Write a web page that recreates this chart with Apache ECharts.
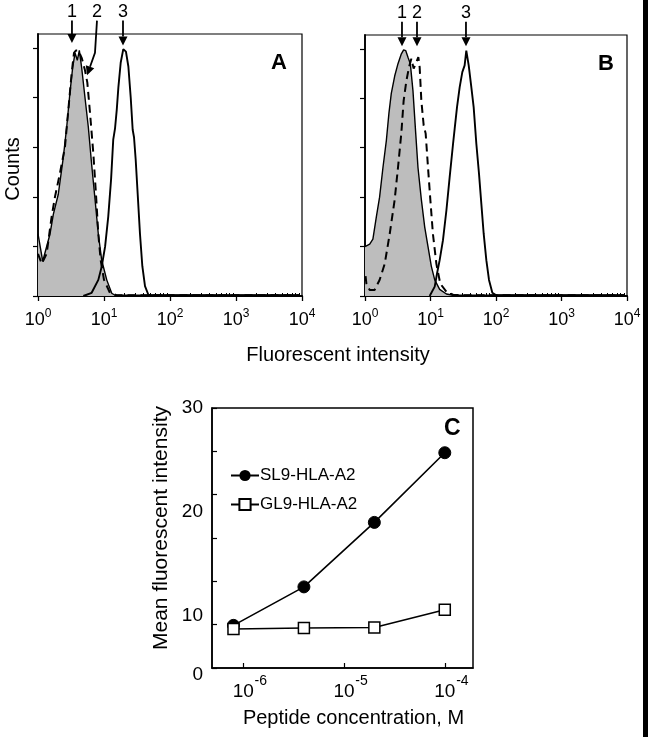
<!DOCTYPE html>
<html><head><meta charset="utf-8">
<script src="https://cdn.jsdelivr.net/npm/echarts@6/dist/echarts.min.js"></script>
<style>html,body{margin:0;padding:0;background:#fff}#c{width:648px;height:737px}</style>
</head><body><div id="c"></div>
<script>
// ---------- Panel A histograms: [fluorescent intensity, counts (% of peak)] ----------
const histA1 = [[1,25],[1.18,14],[1.52,25],[1.71,33],[2.03,41],[2.42,56],[2.72,68],[3.05,82],[3.35,92],[3.64,98],[3.94,95],[4.23,99],[4.59,92],[5.15,80],[5.79,68],[6.5,53],[7.31,39],[8.2,25],[9.22,14.5],[11,6.5],[13.1,1.1],[14.7,0.3],[9000,0.3]];
const histA2 = [[1,17],[1.14,13],[1.35,17],[1.61,32],[1.81,40],[2.15,49.5],[2.56,60],[2.88,75],[3.24,90],[3.51,98],[3.77,99],[4.08,99],[4.59,96],[5.15,91],[5.59,86],[6.13,74],[6.89,57.5],[7.56,41],[8.2,25],[8.9,14.5],[10,6.5],[12.3,1.3],[15.5,0.3],[9000,0.3]];
const histA3 = [[4.86,0],[6.5,1.3],[8.2,6.5],[9.22,11.8],[10.4,20],[11.6,32],[12.8,47],[13.8,63],[14.7,67.6],[15.6,75],[16.5,84],[17.9,94],[19.6,99.5],[21.5,98.5],[23.4,92.5],[25.4,80],[27.2,67],[28.5,64],[30.2,55],[32.4,41],[35.1,25],[38.1,12],[41.8,4],[47,0.5],[52.7,0.3],[9000,0.3]];
// ---------- Panel B histograms ----------
const histB1 = [[1,20],[1.18,21],[1.32,23],[1.49,32],[1.67,40],[1.88,52],[2.12,63],[2.32,74],[2.52,82],[2.84,89],[3.19,94],[3.59,98],[3.89,99.6],[4.18,99.3],[4.53,96.6],[4.92,94],[5.4,83],[5.94,66],[6.44,52],[7.25,39],[8.15,28],[9.16,20],[10.3,12],[11.6,6.5],[13.8,2.7],[17.5,0.8],[22.1,0.3],[9000,0.3]];
const histB2 = [[1.02,8],[1.05,5],[1.18,2.4],[1.4,2.4],[1.67,6.5],[2.0,13],[2.38,25],[2.84,39],[3.19,52],[3.59,66],[3.89,79],[4.28,87],[4.7,92.6],[5.1,96],[5.53,92],[6.08,94.6],[6.52,96.6],[6.83,92.6],[7.25,79],[7.87,69],[8.44,65.7],[9.16,52],[9.94,39],[10.9,25],[12.3,13],[14.1,5],[17.5,1.7],[22.1,0.5],[31.3,0.3],[9000,0.3]];
const histB3 = [[9.71,0],[11.6,3.8],[12.6,9.2],[13.8,14.5],[15.5,22.6],[17.5,34.7],[19.6,48],[22.1,61.6],[23.4,67.7],[25.4,76.4],[27.9,84.5],[30.6,90.6],[33.2,93.3],[35.2,99.3],[38.3,93.3],[42,84.5],[45.6,76.4],[50.1,61.6],[55,49.5],[59.7,37.4],[64.8,25.3],[71.2,14.5],[78.2,6.5],[87.9,1.3],[101,0.3],[9000,0.3]];
// ---------- Arrow annotations (labels 1,2,3) in data coordinates ----------
const arrowsA = [
  {label:'1', pts:[[3.27,111],[3.27,102]]},
  {label:'2', pts:[[7.83,111],[7.3,98],[5.53,89]]},
  {label:'3', pts:[[19.4,111],[19.4,101]]}
];
const arrowsB = [
  {label:'1', pts:[[3.67,111],[3.67,101]]},
  {label:'2', pts:[[6.22,111],[6.22,101]]},
  {label:'3', pts:[[34.8,111],[34.8,101]]}
];
// ---------- Axis ticks ----------
const histXTicks = [1,10,100,1000,10000];
const histXMinor = [2,3,4,5,6,7,8,9,20,30,40,50,60,70,80,90,200,300,400,500,600,700,800,900,2000,3000,4000,5000,6000,7000,8000,9000];
const histYTicks = [0,20,40,60,80,100];
// ---------- Panel C ----------
const concentrations = [8e-7, 4e-6, 2e-5, 1e-4];
const sl9 = [9.1, 12.8, 19.0, 25.7];
const gl9 = [8.75, 8.85, 8.9, 10.6];
const cXTicks = [1e-6, 1e-5, 1e-4];
const cYLabels = [5, 10, 20, 30];
const cYLabelText = {5:'0', 10:'10', 20:'20', 30:'30'};
const cYTicks = [5, 9.17, 13.33, 17.5, 21.67, 25.83, 30];

const FF = 'Liberation Sans, Arial, Helvetica, sans-serif';
const chart = echarts.init(document.getElementById('c'), null, {renderer:'canvas'});

function histX(gridIndex) {
  const main = {
    type:'log', gridIndex, min:1, max:10000, logBase:10,
    axisLine:{show:true, onZero:false, lineStyle:{color:'#000', width:2.2}},
    axisTick:{show:true, inside:false, length:5, customValues:histXTicks, lineStyle:{color:'#000', width:1.3}},
    axisLabel:{show:true, margin:12, customValues:histXTicks, color:'#000',
      formatter: v => '{b|10}{s|' + Math.round(Math.log10(v)) + '}',
      rich:{b:{fontSize:18, fontFamily:FF, color:'#000'}, s:{fontSize:12, fontFamily:FF, color:'#000', padding:[0,0,13,0]}}},
    splitLine:{show:false}, minorTick:{show:false}
  };
  const minor = {
    type:'log', gridIndex, min:1, max:10000, logBase:10, position:'bottom',
    axisLine:{show:false, onZero:false},
    axisTick:{show:true, inside:true, length:3, customValues:histXMinor, lineStyle:{color:'#000', width:1}},
    axisLabel:{show:false}, splitLine:{show:false}
  };
  return [main, minor];
}
function histY(gridIndex, name) {
  return {
    type:'value', gridIndex, min:0, max:105.6,
    name: name || '', nameLocation:'middle', nameGap:15,
    nameTextStyle:{fontSize:20, fontFamily:FF, color:'#000', padding:[0,8,0,0]},
    axisLine:{show:true, onZero:false, lineStyle:{color:'#000', width:1.8}},
    axisTick:{show:true, inside:false, length:5, customValues:histYTicks, lineStyle:{color:'#000', width:1.2}},
    axisLabel:{show:false}, splitLine:{show:false}
  };
}
function histSeries(x, y, d1, d2, d3) {
  return [
    {type:'line', xAxisIndex:x, yAxisIndex:y, data:d1, showSymbol:false, symbol:'none', z:2,
      lineStyle:{color:'#000', width:1.4}, areaStyle:{color:'#bdbdbd', opacity:1}},
    {type:'line', xAxisIndex:x, yAxisIndex:y, data:d2, showSymbol:false, symbol:'none', z:3,
      lineStyle:{color:'#000', width:2, type:[8,5]}},
    {type:'line', xAxisIndex:x, yAxisIndex:y, data:d3, showSymbol:false, symbol:'none', z:4,
      lineStyle:{color:'#000', width:1.9}}
  ];
}

const xa = histX(0).concat(histX(1));
xa.push({
  type:'log', gridIndex:2, min:Math.pow(10,-6.31), max:Math.pow(10,-3.72), logBase:10,
  name:'Peptide concentration, M', nameLocation:'middle', nameGap:40,
  nameTextStyle:{fontSize:20, fontFamily:FF, color:'#000', padding:[0,0,0,22]},
  axisLine:{show:true, onZero:false, lineStyle:{color:'#000', width:1.5}},
  axisTick:{show:true, inside:true, length:5, customValues:cXTicks, lineStyle:{color:'#000', width:1.2}},
  axisLabel:{show:true, margin:6, customValues:cXTicks, color:'#000',
    formatter: v => '{sp|}{b|10}{s|' + Math.round(Math.log10(v)) + '}',
    rich:{sp:{width:14}, b:{fontSize:19, fontFamily:FF, color:'#000'}, s:{fontSize:14, fontFamily:FF, color:'#000', width:14, padding:[0,0,22,0]}}},
  splitLine:{show:false}
});

const option = {
  backgroundColor:'#fff',
  animation:false,
  grid:[
    {left:38, top:34, width:264, height:262, show:true, borderColor:'#000', borderWidth:1.2, backgroundColor:'transparent'},
    {left:365, top:35, width:262, height:261, show:true, borderColor:'#000', borderWidth:1.2, backgroundColor:'transparent'},
    {left:212, top:408, width:261, height:260, show:true, borderColor:'#000', borderWidth:1.5, backgroundColor:'transparent'}
  ],
  title:[
    {text:'A', left:266, top:47, textStyle:{fontSize:22, fontWeight:'bold', fontFamily:FF, color:'#000'}},
    {text:'B', left:593, top:48, textStyle:{fontSize:22, fontWeight:'bold', fontFamily:FF, color:'#000'}},
    {text:'C', left:439, top:412, textStyle:{fontSize:23, fontWeight:'bold', fontFamily:FF, color:'#000'}}
  ],
  legend:{
    show:true, orient:'vertical', left:225, top:462, itemWidth:28, itemHeight:14, itemGap:12,
    data:['SL9-HLA-A2','GL9-HLA-A2'],
    textStyle:{fontSize:17, fontFamily:FF, color:'#000', padding:[0,0,0,-4]}
  },
  xAxis: xa,
  yAxis:[
    histY(0, 'Counts'),
    histY(1, ''),
    {
      type:'value', gridIndex:2, min:5, max:30,
      name:'Mean fluorescent intensity', nameLocation:'middle', nameGap:40,
      nameTextStyle:{fontSize:21, fontFamily:FF, color:'#000', padding:[0,0,0,20]},
      axisLine:{show:true, onZero:false, lineStyle:{color:'#000', width:1.5}},
      axisTick:{show:true, inside:true, length:5, customValues:cYTicks, lineStyle:{color:'#000', width:1.2}},
      axisLabel:{show:true, margin:9, customValues:cYLabels, color:'#000', fontSize:19, fontFamily:FF,
        formatter: v => v === 5 ? '{z|' + cYLabelText[5] + '}' : cYLabelText[v],
        rich:{z:{fontSize:19, fontFamily:FF, color:'#000', padding:[14,0,0,0]}}},
      splitLine:{show:false}
    }
  ],
  series: histSeries(0,0,histA1,histA2,histA3).concat(histSeries(2,1,histB1,histB2,histB3)).concat([
    {name:'SL9-HLA-A2', type:'line', xAxisIndex:4, yAxisIndex:2,
      data: concentrations.map((c,i)=>[c, sl9[i]]),
      symbol:'circle', symbolSize:12, z:5,
      lineStyle:{color:'#000', width:1.6}, itemStyle:{color:'#000', borderColor:'#000'}},
    {name:'GL9-HLA-A2', type:'line', xAxisIndex:4, yAxisIndex:2,
      data: concentrations.map((c,i)=>[c, gl9[i]]),
      symbol:'rect', symbolSize:11, z:5,
      lineStyle:{color:'#000', width:1.6}, itemStyle:{color:'#fff', borderColor:'#000', borderWidth:1.5}}
  ])
};
chart.setOption(option);

// ---------- annotation arrows & free texts ----------
function arrowEls(list, xi, yi) {
  const els = [];
  list.forEach(a => {
    const p = a.pts.map(d => chart.convertToPixel({xAxisIndex:xi, yAxisIndex:yi}, d));
    const n = p.length;
    const tip = p[n-1], prev = p[n-2];
    const dx = tip[0]-prev[0], dy = tip[1]-prev[1];
    const L = Math.sqrt(dx*dx+dy*dy), ux = dx/L, uy = dy/L;
    const hl = 9, hw = 4.5;
    const base = [tip[0]-ux*hl, tip[1]-uy*hl];
    const line = p.slice(0, n-1).concat([base]);
    els.push({type:'polyline', shape:{points:line}, style:{stroke:'#000', lineWidth:1.8, fill:null}, z:10});
    els.push({type:'polygon', shape:{points:[tip, [base[0]-uy*hw, base[1]+ux*hw], [base[0]+uy*hw, base[1]-ux*hw]]}, style:{fill:'#000'}, z:10});
    els.push({type:'text', x:p[0][0], y:p[0][1]-9, style:{text:a.label, fill:'#000', font:'18px ' + FF, align:'center', verticalAlign:'middle'}, z:10});
  });
  return els;
}
const gEls = arrowEls(arrowsA, 0, 0).concat(arrowEls(arrowsB, 2, 1));
gEls.push({type:'text', x:338, y:355, style:{text:'Fluorescent intensity', fill:'#000', font:'20px ' + FF, align:'center', verticalAlign:'middle'}});
gEls.push({type:'rect', shape:{x:643, y:0, width:5, height:737}, style:{fill:'#000'}});
chart.setOption({graphic: gEls});
</script>
</body></html>
